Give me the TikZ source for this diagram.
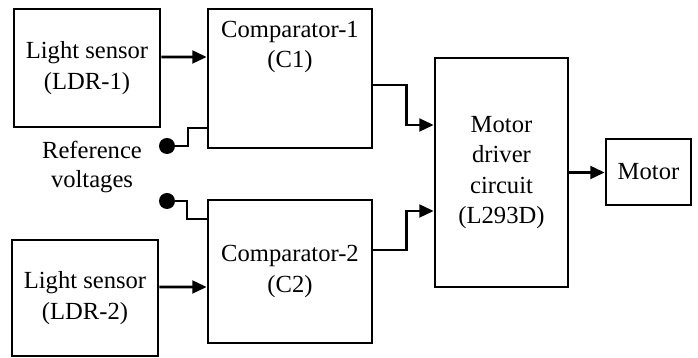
\documentclass[tikz,border=0pt]{standalone}
\usepackage{fontspec}
\setmainfont{Liberation Serif}
\usetikzlibrary{arrows.meta,positioning}
\begin{document}
\begin{tikzpicture}[x=1cm,y=1cm,font=\fontsize{17.5}{21.5}\selectfont,
  blk/.style={draw,line width=1.9pt,align=center,inner sep=0pt},
  wire/.style={line width=1.9pt},
  arr/.style={wire,-{Triangle[length=0.36cm,width=0.32cm]}},
  refdot/.style={circle,fill,inner sep=0pt,minimum size=0.4cm}]
  \useasboundingbox (0,0) rectangle (17.45,8.95);
  \node[blk,minimum width=3.65cm,minimum height=2.95cm] (ldr1) at (2.175,7.25) {Light sensor\\(LDR-1)};
  \node[blk,minimum width=3.65cm,minimum height=2.9cm] (ldr2) at (2.125,1.5) {Light sensor\\(LDR-2)};
  \node[blk,minimum width=4.1cm,minimum height=3.475cm] (comp1) at (7.25,6.9875) {};
  \node[align=center,inner sep=0pt,below=0.32cm of comp1.north] (comp1txt) {Comparator-1\\(C1)};
  \node[blk,minimum width=4.1cm,minimum height=3.575cm] (comp2) at (7.25,2.1625) {Comparator-2\\(C2)};
  \node[blk,minimum width=3.325cm,minimum height=5.725cm] (drv) at (12.5375,4.6375) {Motor\\driver\\circuit\\(L293D)};
  \node[blk,minimum width=2.125cm,minimum height=1.65cm] (motor) at (16.2125,4.65) {Motor};
  \node[refdot] (ref1) at (4.175,5.3) {};
  \node[refdot] (ref2) at (4.175,3.925) {};
  \node[align=center,font=\fontsize{17.5}{20.5}\selectfont] (reftxt) at (2.3,4.775) {Reference\\voltages};
  \draw[arr] ([yshift=0.275cm]ldr1.east) -- ([yshift=0.5375cm]comp1.west);
  \draw[arr] ([yshift=0.275cm]ldr2.east) -- ([yshift=-0.3875cm]comp2.west);
  \draw[wire] (ref1) -- ++(0.525,0) |- ([yshift=-1.2375cm]comp1.west);
  \draw[wire] (ref2) -- ++(0.5,0) |- ([yshift=1.3125cm]comp2.west);
  \draw[arr] ([yshift=-0.1625cm]comp1.east) -- ++(0.825,0) |- ([yshift=1.1875cm]drv.west);
  \draw[arr] ([yshift=0.5375cm]comp2.east) -- ++(0.825,0) |- ([yshift=-0.9625cm]drv.west);
  \draw[arr] (drv.east) -- (motor.west |- drv.east);
\end{tikzpicture}
\end{document}
